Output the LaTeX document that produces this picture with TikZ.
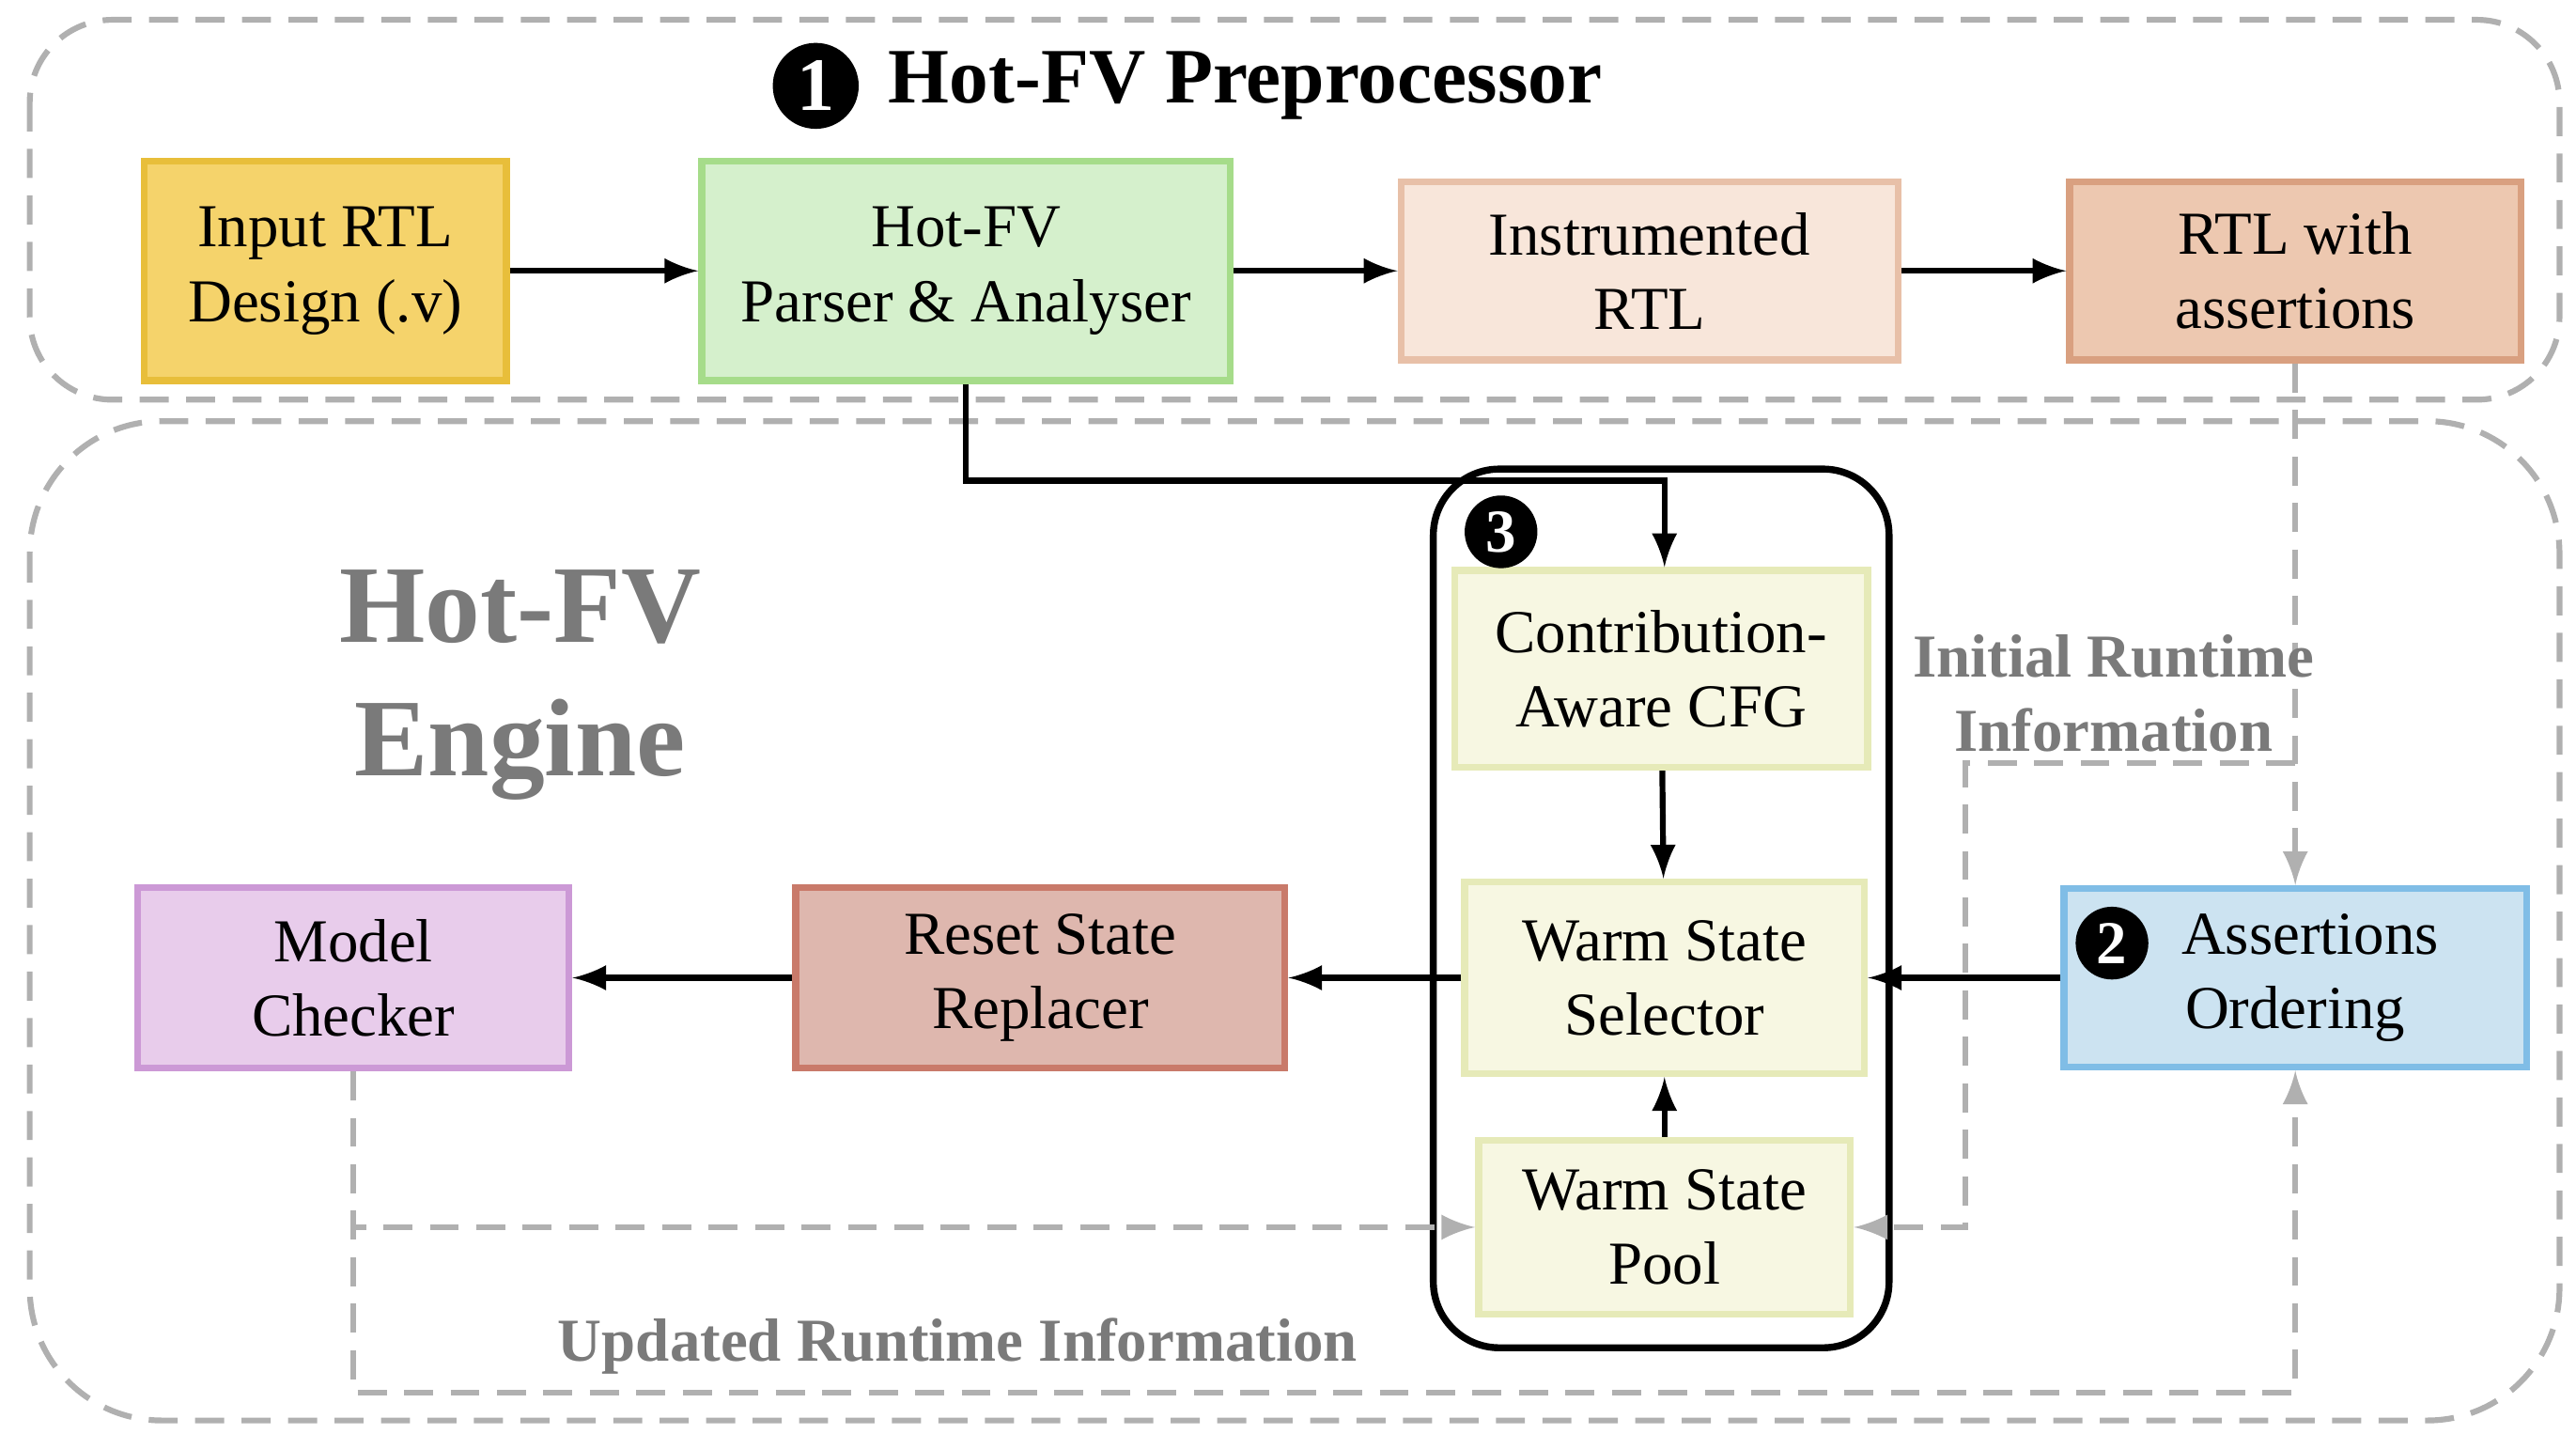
\documentclass[tikz,border=0pt]{standalone}
\usepackage{fontspec}
\setmainfont{Liberation Serif}
\usetikzlibrary{positioning,calc}
\definecolor{dashgray}{HTML}{B0B0B0}
\definecolor{labgray}{HTML}{7A7A7A}
\tikzset{
  blk/.style={draw,line width=1.2pt,align=center,inner sep=0pt,font=\fontsize{10.5}{12.8}\selectfont},
  num/.style={circle,fill=black,text=white,inner sep=0pt,minimum size=0.44cm,font=\bfseries\fontsize{10.5}{12}\selectfont},
  flow/.style={-latex,line width=1pt},
  rt/.style={-latex,dashed,dashgray,line width=1pt,dash pattern=on 5pt off 3pt},
  region/.style={draw=dashgray,dashed,line width=1pt,dash pattern=on 5pt off 3pt,rounded corners=0.8cm}
}
\begin{document}
\begin{tikzpicture}[x=0.01cm,y=-0.01cm]
\useasboundingbox (0,0) rectangle (1560,868);

% outer regions
\draw[region,rounded corners=0.5cm] (18,12) rectangle (1550,242);
\draw[region] (18,255) rectangle (1550,860);
\draw[line width=1.2pt,rounded corners=0.4cm] (868,284) rectangle (1144,816);

% titles
\node[num,minimum size=0.52cm,font=\bfseries\fontsize{13}{14}\selectfont] (n1) at (494,52) {1};
\node[right=0.05cm of n1,font=\bfseries\fontsize{13.5}{16}\selectfont] (pre) {Hot-FV Preprocessor};
\node[align=center,text=labgray,font=\bfseries\fontsize{19}{23}\selectfont] (eng) at (315,415) {Hot-FV\\Engine};

% preprocessor row
\node[blk,fill={rgb,255:red,245;green,211;blue,107},draw={rgb,255:red,232;green,190;blue,58},minimum width=2.19cm,minimum height=1.33cm] (input) at (197,164) {Input RTL\\Design (.v)};
\node[blk,fill={rgb,255:red,213;green,240;blue,204},draw={rgb,255:red,166;green,220;blue,138},minimum width=3.2cm,minimum height=1.33cm] (parser) at (585,164) {Hot-FV\\Parser \& Analyser};
\node[blk,fill={rgb,255:red,248;green,230;blue,218},draw={rgb,255:red,232;green,192;blue,168},minimum width=3.01cm,minimum height=1.08cm] (instr) at (999,164) {Instrumented\\RTL};
\node[blk,fill={rgb,255:red,237;green,200;blue,176},draw={rgb,255:red,217;green,160;blue,128},minimum width=2.73cm,minimum height=1.08cm] (asrtl) at (1390,164) {RTL with\\assertions};

% engine
\node[blk,fill={rgb,255:red,247;green,247;blue,226},draw={rgb,255:red,230;green,234;blue,184},minimum width=2.5cm,minimum height=1.19cm] (cfg) at (1006,405) {Contribution-\\Aware CFG};
\node[blk,fill={rgb,255:red,247;green,247;blue,226},draw={rgb,255:red,230;green,234;blue,184},minimum width=2.42cm,minimum height=1.16cm] (sel) at (1008,592) {Warm State\\Selector};
\node[blk,fill={rgb,255:red,247;green,247;blue,226},draw={rgb,255:red,230;green,234;blue,184},minimum width=2.25cm,minimum height=1.05cm] (pool) at (1008,743) {Warm State\\Pool};
\node[blk,fill={rgb,255:red,204;green,227;blue,241},draw={rgb,255:red,128;green,189;blue,230},minimum width=2.8cm,minimum height=1.08cm] (order) at (1390,592) {\hspace*{0.18cm}Assertions\\Ordering};
\node[blk,fill={rgb,255:red,222;green,183;blue,174},draw={rgb,255:red,201;green,122;blue,106},minimum width=2.96cm,minimum height=1.09cm] (reset) at (630,592) {Reset State\\Replacer};
\node[blk,fill={rgb,255:red,232;green,204;blue,235},draw={rgb,255:red,204;green,153;blue,214},minimum width=2.61cm,minimum height=1.09cm] (mc) at (214,592) {Model\\Checker};
\node[num] (n2) at (1279,571) {2};
\node[num] (n3) at (909,322) {3};

% solid flow
\draw[flow] (input) -- (parser);
\draw[flow] (parser.east |- instr) -- (instr);
\draw[flow] (instr) -- (asrtl);
\draw[flow] (parser.south) |- (1008,291) -- (cfg.north -| 1008,0);
\draw[flow] (cfg) -- (sel);
\draw[flow] (pool) -- (sel);
\draw[flow] (order) -- (sel);
\draw[flow] (sel) -- (reset);
\draw[flow] (reset) -- (mc);

% runtime information
\coordinate (split) at (1390,462);
\coordinate (mcdown) at (214,843);
\draw[rt] (asrtl.south) -- (order.north);
\draw[rt] (split) -- (1190,462) |- (pool.east);
\draw[rt] (mc.south) |- (pool.west);
\draw[rt] (mc.south) -- (mcdown) -| (order.south);
\node[text=labgray,align=center,font=\bfseries\fontsize{10.5}{12.8}\selectfont] (init) at (1280,420) {Initial Runtime\\Information};
\node[text=labgray,font=\bfseries\fontsize{10.5}{12.8}\selectfont] (upd) at (580,815) {Updated Runtime Information};
\end{tikzpicture}
\end{document}
